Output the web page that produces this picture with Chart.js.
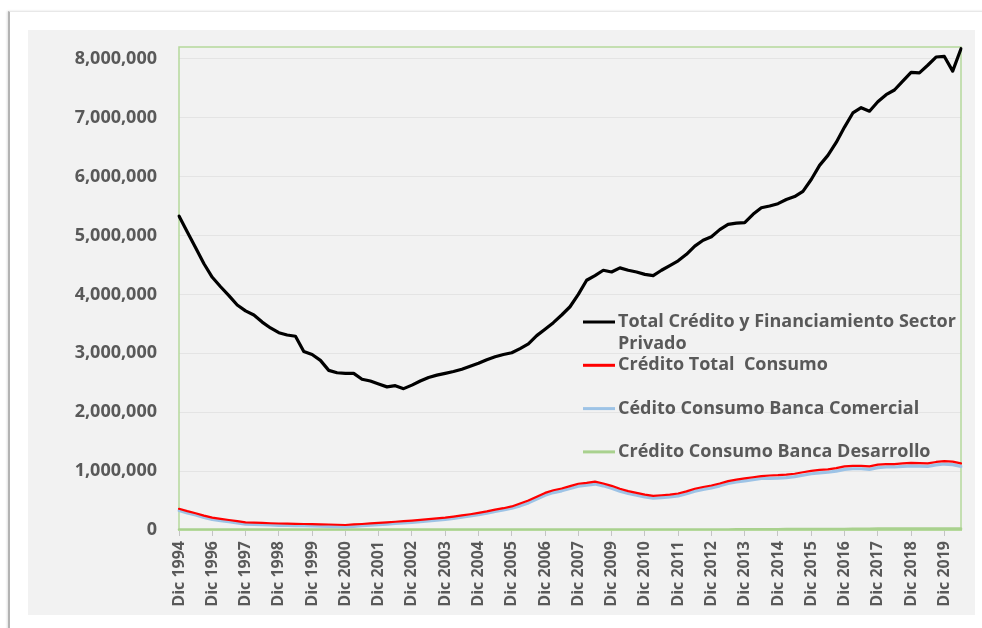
<!DOCTYPE html>
<html lang="es">
<head>
<meta charset="utf-8">
<title>Crédito sector privado</title>
<script src="https://cdn.jsdelivr.net/npm/chart.js@4.4.1/dist/chart.umd.min.js"></script>
<style>
  html, body { margin: 0; padding: 0; background: #fff; }
  body { width: 982px; height: 628px; position: relative; overflow: hidden; }
  .frame {
    position: absolute; left: 8px; top: 11px; width: 980px; height: 620px;
    border-left: 2px solid #b3b3b3; border-top: 1px solid #e8e8e8;
    box-shadow: -1px 0 2px rgba(0,0,0,0.12);
  }
  .panel {
    position: absolute; left: 28px; top: 30px; width: 947px; height: 585px;
    background: #f2f2f2;
  }
</style>
</head>
<body>
<div class="frame"></div>
<div class="panel"><canvas id="creditChart" width="947" height="585"></canvas></div>
<script>
// Dic 1994 .. 2020, one point per quarter; one axis label every 4 points
const tickLabels = ['Dic 1994', 'Dic 1996', 'Dic 1997', 'Dic 1998', 'Dic 1999', 'Dic 2000',
  'Dic 2001', 'Dic 2002', 'Dic 2003', 'Dic 2004', 'Dic 2005', 'Dic 2006', 'Dic 2007',
  'Dic 2009', 'Dic 2010', 'Dic 2011', 'Dic 2012', 'Dic 2013', 'Dic 2014', 'Dic 2015',
  'Dic 2016', 'Dic 2017', 'Dic 2018', 'Dic 2019'];

const yTicks = [0, 1000000, 2000000, 3000000, 4000000, 5000000, 6000000, 7000000, 8000000];

const seriesNames = [
  'Total Crédito y Financiamiento Sector Privado',
  'Crédito Total  Consumo',
  'Cédito Consumo Banca Comercial',
  'Crédito Consumo Banca Desarrollo'
];

const totalPrivado = [
  5330000, 5060000, 4790000, 4520000, 4290000, 4130000, 3980000, 3820000, 3720000, 3650000,
  3530000, 3430000, 3350000, 3310000, 3290000, 3030000, 2980000, 2880000, 2710000, 2670000,
  2660000, 2660000, 2560000, 2530000, 2480000, 2430000, 2450000, 2400000, 2460000, 2530000,
  2590000, 2630000, 2660000, 2690000, 2730000, 2780000, 2830000, 2890000, 2940000, 2980000,
  3010000, 3080000, 3160000, 3300000, 3410000, 3520000, 3650000, 3790000, 4000000, 4240000,
  4320000, 4410000, 4380000, 4450000, 4410000, 4380000, 4340000, 4320000, 4410000, 4490000,
  4570000, 4680000, 4820000, 4920000, 4980000, 5100000, 5190000, 5210000, 5220000, 5360000,
  5470000, 5500000, 5540000, 5610000, 5660000, 5750000, 5950000, 6190000, 6360000, 6580000,
  6840000, 7080000, 7170000, 7110000, 7270000, 7390000, 7470000, 7620000, 7770000, 7760000,
  7890000, 8030000, 8040000, 7790000, 8170000
];

const consumoTotal = [
  360000, 320000, 285000, 245000, 210000, 190000, 170000, 150000, 130000, 125000,
  120000, 115000, 110000, 107000, 105000, 102000, 100000, 97000, 93000, 89000,
  85000, 94000, 102000, 111000, 120000, 130000, 140000, 150000, 160000, 172000,
  184000, 197000, 210000, 228000, 248000, 268000, 290000, 315000, 345000, 370000,
  400000, 450000, 500000, 566000, 630000, 675000, 705000, 745000, 785000, 800000,
  820000, 790000, 750000, 700000, 660000, 630000, 600000, 580000, 590000, 600000,
  620000, 655000, 700000, 730000, 755000, 790000, 830000, 855000, 875000, 895000,
  915000, 925000, 930000, 940000, 955000, 980000, 1005000, 1020000, 1030000, 1050000,
  1080000, 1090000, 1090000, 1080000, 1110000, 1120000, 1120000, 1130000, 1140000, 1135000,
  1130000, 1155000, 1170000, 1160000, 1130000
];

const consumoComercial = [
  330000, 290000, 255000, 215000, 180000, 160000, 140000, 120000, 100000, 95000,
  90000, 85000, 80000, 77000, 75000, 72000, 70000, 67000, 63000, 58000,
  52000, 62000, 72000, 81000, 90000, 100000, 110000, 120000, 130000, 142000,
  154000, 167000, 180000, 198000, 218000, 238000, 260000, 285000, 315000, 340000,
  370000, 410000, 460000, 526000, 590000, 635000, 665000, 705000, 745000, 760000,
  780000, 750000, 710000, 660000, 620000, 590000, 560000, 540000, 550000, 560000,
  580000, 615000, 660000, 690000, 715000, 750000, 790000, 815000, 835000, 855000,
  875000, 875000, 880000, 890000, 905000, 930000, 955000, 970000, 980000, 1000000,
  1030000, 1040000, 1040000, 1030000, 1060000, 1070000, 1070000, 1080000, 1090000, 1085000,
  1080000, 1105000, 1120000, 1110000, 1080000
];

const consumoDesarrollo = [
  5000, 5000, 5000, 5000, 4000, 4000, 4000, 4000, 4000, 4000,
  4000, 4000, 4000, 4000, 4000, 4000, 4000, 4000, 4000, 4000,
  4000, 4000, 4000, 4000, 4000, 4000, 4000, 4000, 4000, 4000,
  4000, 4000, 4000, 4000, 4000, 4000, 4000, 4000, 4000, 4000,
  4000, 4000, 4000, 4000, 4000, 4000, 4000, 4000, 5000, 5000,
  5000, 5000, 5000, 5000, 5000, 5000, 5000, 5000, 5000, 5000,
  5000, 5000, 5000, 6000, 6000, 6000, 6000, 7000, 7000, 10000,
  10000, 10000, 10000, 11000, 11000, 11000, 12000, 12000, 12000, 13000,
  14000, 18000, 19000, 19000, 20000, 20000, 20000, 20000, 21000, 21000,
  21000, 21000, 22000, 22000, 22000
];

const categories = totalPrivado.map((_, i) => (i % 4 === 0 ? tickLabels[i / 4] : ''));

const colors = ['#000000', '#ff0000', '#9dc3e6', '#a9d18e'];
const textColor = '#595959';
const fontFamily = '"Open Sans", "DejaVu Sans", sans-serif';

// green frame around the plot area
const plotFrame = {
  id: 'plotFrame',
  beforeDatasetsDraw(chart) {
    const { ctx, chartArea: a } = chart;
    ctx.save();
    ctx.strokeStyle = '#b5d99c';
    ctx.lineWidth = 1.5;
    ctx.strokeRect(a.left, a.top, a.right - a.left, a.bottom - a.top);
    ctx.restore();
  }
};

// legend sitting inside the plot, right side, with wrapped text
const sideLegend = {
  id: 'sideLegend',
  afterDraw(chart) {
    const { ctx, chartArea: a } = chart;
    const x0 = a.left + 404;
    const y0 = a.top + 275;
    const maxW = a.right - (x0 + 35) - 2;
    ctx.save();
    ctx.font = '700 18px ' + fontFamily;
    ctx.textBaseline = 'middle';
    ctx.textAlign = 'left';
    chart.data.datasets.forEach((ds, i) => {
      const y = y0 + i * 43.3;
      ctx.strokeStyle = ds.borderColor;
      ctx.lineWidth = 3;
      ctx.beginPath();
      ctx.moveTo(x0, y);
      ctx.lineTo(x0 + 32, y);
      ctx.stroke();
      ctx.fillStyle = textColor;
      const words = ds.label.split(' ');
      let line = '';
      let ly = y;
      words.forEach(w => {
        const test = line === '' ? w : line + ' ' + w;
        if (line !== '' && w !== '' && ctx.measureText(test).width > maxW) {
          ctx.fillText(line, x0 + 35, ly);
          line = w;
          ly += 22;
        } else {
          line = test;
        }
      });
      ctx.fillText(line, x0 + 35, ly);
    });
    ctx.restore();
  }
};

function draw() {
  new Chart(document.getElementById('creditChart'), {
    type: 'line',
    data: {
      labels: categories,
      datasets: [
        { label: seriesNames[0], data: totalPrivado, borderColor: colors[0], borderWidth: 3.2 },
        { label: seriesNames[1], data: consumoTotal, borderColor: colors[1], borderWidth: 2.2 },
        { label: seriesNames[2], data: consumoComercial, borderColor: colors[2], borderWidth: 3.2 },
        { label: seriesNames[3], data: consumoDesarrollo, borderColor: colors[3], borderWidth: 3 }
      ]
    },
    options: {
      responsive: false,
      animation: false,
      devicePixelRatio: 1,
      elements: {
        point: { radius: 0 },
        line: { tension: 0, borderJoinStyle: 'round', borderCapStyle: 'round' }
      },
      layout: { padding: { left: 0, top: 17, right: 14, bottom: 0 } },
      plugins: {
        legend: { display: false },
        tooltip: { enabled: false }
      },
      scales: {
        x: {
          type: 'category',
          afterBuildTicks: s => { s.ticks = s.ticks.filter(t => t.value % 4 === 0); },
          afterFit: s => { s.height = 85; s.paddingLeft = 0; s.paddingRight = 0; },
          grid: { drawOnChartArea: false, drawTicks: true, tickLength: 6, color: '#c4c4c4' },
          border: { display: true, color: '#b5d99c', width: 2 },
          ticks: {
            autoSkip: false, minRotation: 90, maxRotation: 90, padding: 5,
            color: textColor, font: { family: fontFamily, size: 16, weight: '700' }
          }
        },
        y: {
          min: 0,
          max: 8200000,
          afterBuildTicks: s => { s.ticks = yTicks.map(v => ({ value: v })); },
          afterFit: s => { s.width = 151; s.paddingTop = 0; s.paddingBottom = 0; },
          grid: { color: '#e4e4e4', lineWidth: 1, drawTicks: false },
          border: { display: false },
          ticks: {
            padding: 22,
            color: textColor,
            font: { family: fontFamily, size: 18, weight: '700' },
            callback: v => Number(v).toLocaleString('en-US')
          }
        }
      }
    },
    plugins: [plotFrame, sideLegend]
  });
}

if (document.fonts && document.fonts.load) {
  Promise.all([
    document.fonts.load('700 18px "Open Sans"'),
    document.fonts.load('700 16px "Open Sans"')
  ]).then(draw, draw);
} else {
  draw();
}
</script>
</body>
</html>
